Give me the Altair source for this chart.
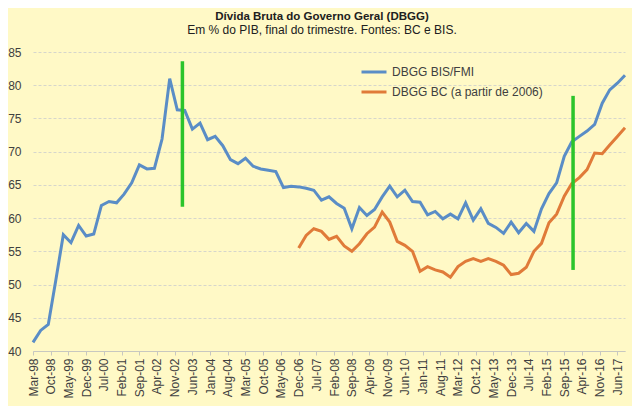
import altair as alt
import pandas as pd

# Quarterly data, Mar-1998 .. Sep-2017
start = "1998-03-01"
n_q = 79
bis_fmi = [41.3, 43.1, 44.0, 50.7, 57.5, 56.3, 58.9, 57.3, 57.6, 61.9,
           62.5, 62.3, 63.6, 65.3, 68.0, 67.4, 67.5, 71.9, 81.0, 76.3,
           76.2, 73.4, 74.3, 71.8, 72.3, 70.9, 68.8, 68.2, 69.0, 67.8,
           67.4, 67.2, 67.0, 64.6, 64.8, 64.7, 64.5, 64.2, 62.7, 63.2,
           62.2, 61.5, 58.4, 61.6, 60.4, 61.3, 63.2, 64.8, 63.2, 64.2,
           62.5, 62.4, 60.5, 61.0, 59.9, 60.6, 59.9, 62.3, 59.7, 61.4,
           59.2, 58.6, 57.7, 59.4, 57.8, 59.2, 58.0, 61.4, 63.7, 65.3,
           69.3, 71.5, 72.3, 73.1, 74.1, 77.3, 79.3, 80.3, 81.5]
bc_start_index = 35  # Dec-2006
bc = [55.5, 57.4, 58.4, 58.0, 56.8, 57.25, 55.8, 55.0, 56.15, 57.65,
      58.65, 60.9, 59.4, 56.5, 55.9, 55.0, 52.0, 52.7, 52.2, 51.9,
      51.1, 52.7, 53.5, 53.9, 53.5, 53.9, 53.5, 52.9, 51.5, 51.7,
      52.6, 55.0, 56.2, 59.3, 60.6, 63.3, 65.2, 66.1, 67.3, 69.8,
      69.7, 71.0, 72.3, 73.6]

series_names = ["DBGG BIS/FMI", "DBGG BC (a partir de 2006)"]
series_colors = ["#5A8DC6", "#E07B39"]

# Green markers (vertical lines)
marker_dates = ["2003-02-01", "2015-12-16"]
marker_low = [61.7, 52.2]
marker_high = [83.6, 78.4]

# X-axis tick labels: every 7 months
tick_dates = pd.date_range("1998-03-01", "2017-06-01", freq="7MS")
y_ticks = [40, 45, 50, 55, 60, 65, 70, 75, 80, 85]

dates = pd.date_range(start, periods=n_q, freq="3MS")
rows = []
for d, v in zip(dates, bis_fmi):
    rows.append({"date": d.strftime("%Y-%m-%d"), "serie": series_names[0], "valor": v})
for d, v in zip(dates[bc_start_index:], bc):
    rows.append({"date": d.strftime("%Y-%m-%d"), "serie": series_names[1], "valor": v})
df = pd.DataFrame(rows)

mk = pd.DataFrame({"date": marker_dates, "low": marker_low, "high": marker_high})

x_scale = alt.Scale(domain=[alt.DateTime(year=1998, month=3, date=1),
                            alt.DateTime(year=2017, month=9, date=1)], nice=False)
y_scale = alt.Scale(domain=[40, 85], nice=False, zero=False)

tick_vals = [alt.DateTime(year=int(t.year), month=int(t.month), date=1) for t in tick_dates]

x_axis = alt.Axis(values=tick_vals, format="%b-%y", labelAngle=-90,
                  labelAlign="right", labelBaseline="middle",
                  labelFontSize=12, labelColor="#404040",
                  labelFont="Liberation Sans", grid=False,
                  domainColor="#c8c8c0", tickColor="#c8c8c0",
                  tickSize=4, labelPadding=3, labelOverlap=False)
y_axis = alt.Axis(values=y_ticks, grid=True,
                  gridColor="#d6d6cc", gridDash=[3, 2], gridWidth=1,
                  domain=False, ticks=False, labelPadding=12,
                  labelFontSize=12, labelColor="#404040",
                  labelFont="Liberation Sans", labelOverlap=False)

lines = alt.Chart(df).mark_line(strokeWidth=3).encode(
    x=alt.X("date:T", scale=x_scale, title=None, axis=x_axis),
    y=alt.Y("valor:Q", scale=y_scale, title=None, axis=y_axis),
    color=alt.Color("serie:N",
                    scale=alt.Scale(domain=series_names, range=series_colors),
                    legend=alt.Legend(title=None, orient="none", legendX=327, legendY=6,
                                      symbolType="stroke", symbolSize=625,
                                      symbolStrokeWidth=3, labelFontSize=12,
                                      labelFont="Liberation Sans", labelColor="#404040",
                                      labelOffset=4, rowPadding=0, padding=0,
                                      labelLimit=300)),
)

rules = alt.Chart(mk).mark_rule(color="#2BC42B", strokeWidth=3.5).encode(
    x=alt.X("date:T", scale=x_scale, title=None, axis=x_axis),
    y=alt.Y("low:Q", scale=y_scale, title=None, axis=y_axis),
    y2="high:Q",
)

chart = alt.layer(lines, rules).properties(
    width=592, height=299,
    title=alt.TitleParams(
        text="Dívida Bruta do Governo Geral (DBGG)",
        subtitle="Em % do PIB, final do trimestre. Fontes: BC e BIS.",
        anchor="middle", frame="group", font="Liberation Sans",
        fontSize=11.5, fontWeight="bold", color="#202020",
        subtitleFont="Liberation Sans", subtitleFontSize=12,
        subtitleColor="#202020", subtitlePadding=3, offset=10, dx=-7),
    background="#FFF9C6",
    autosize=alt.AutoSizeParams(type="none"),
    padding={"left": 25, "top": 44, "right": 7, "bottom": 55},
).configure_view(stroke=None)

chart.save("out.html", embed_options={"renderer": "svg", "actions": False})
